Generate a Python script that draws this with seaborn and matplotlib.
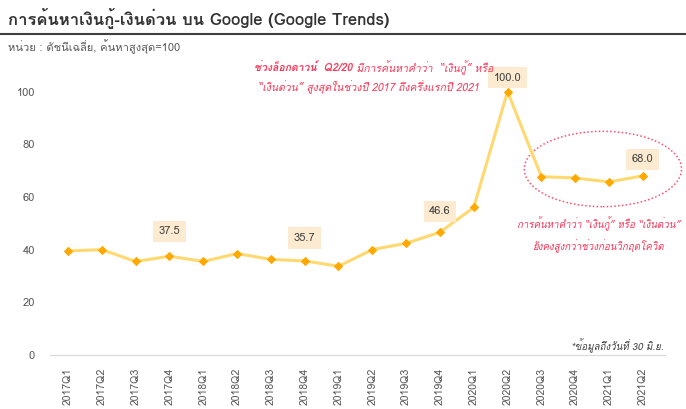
import matplotlib
matplotlib.use("Agg")
import matplotlib.pyplot as plt
from matplotlib import font_manager
from matplotlib.patches import Ellipse
import numpy as np
import pandas as pd
import seaborn as sns
from fontTools.ttLib import TTFont

quarters = [
    "2017Q1", "2017Q2", "2017Q3", "2017Q4",
    "2018Q1", "2018Q2", "2018Q3", "2018Q4",
    "2019Q1", "2019Q2", "2019Q3", "2019Q4",
    "2020Q1", "2020Q2", "2020Q3", "2020Q4",
    "2021Q1", "2021Q2",
]
index_values = [
    39.5, 40.0, 35.5, 37.5,
    35.5, 38.5, 36.3, 35.7,
    33.7, 40.0, 42.4, 46.6,
    56.0, 100.0, 67.7, 67.2,
    65.7, 68.0,
]
labelled = ["2017Q4", "2018Q4", "2019Q4", "2020Q2", "2021Q2"]
label_offsets = [18, 16.5, 15, 10, 12]

title = "การค้นหาเงินกู้-เงินด่วน บน Google (Google Trends)"
subtitle = "หน่วย : ดัชนีเฉลี่ย, ค้นหาสูงสุด=100"
note_bold = "ช่วงล็อกดาวน์  Q2/20"
note_rest = " มีการค้นหาคำว่า  “เงินกู้” หรือ"
note_line2 = "“เงินด่วน” สูงสุดในช่วงปี 2017 ถึงครึ่งแรกปี 2021"
note2 = "การค้นหาคำว่า “เงินกู้” หรือ “เงินด่วน”\nยังคงสูงกว่าช่วงก่อนวิกฤตโควิด"
footnote = "*ข้อมูลถึงวันที่ 30 มิ.ย."


def find_thai_fonts():
    names = []
    for f in font_manager.fontManager.ttflist:
        try:
            cmap = TTFont(f.fname, fontNumber=0, lazy=True).getBestCmap()
        except Exception:
            continue
        if cmap and 0x0E01 in cmap and f.name not in names:
            names.append(f.name)
    return names


sns.set_style("white")
thai = find_thai_fonts()
plt.rcParams["font.family"] = thai + ["DejaVu Sans"]

df = pd.DataFrame({"quarter": quarters, "value": index_values})
df["pos"] = np.arange(len(df))

fig = plt.figure(figsize=(6.86, 4.09), dpi=100)
ax = fig.add_axes([0.073, 0.132, 0.896, 0.773])

sns.lineplot(data=df, x="pos", y="value", ax=ax, color="#FFD970", linewidth=2.2,
             marker="D", markersize=4.5, markerfacecolor="#FFA800",
             markeredgecolor="#FFA800")

for q, off in zip(labelled, label_offsets):
    row = df[df["quarter"] == q].iloc[0]
    ax.annotate(f"{row['value']:.1f}", (row["pos"], row["value"]),
                xytext=(0, off), textcoords="offset points", ha="center",
                va="center", fontsize=8, color="#404040",
                bbox=dict(boxstyle="square,pad=0.5", facecolor="#FCEBD0",
                          edgecolor="none"))

ax.set_xlim(-0.53, len(df) - 0.35)
ax.set_ylim(0, 120)
ax.set_yticks([0, 20, 40, 60, 80, 100])
ax.set_xticks(df["pos"])
ax.set_xticklabels(quarters, rotation=90, fontsize=7.5, color="#595959")
ax.tick_params(axis="y", labelsize=8, labelcolor="#595959", length=0, pad=11)
ax.tick_params(axis="x", length=0, pad=9)
ax.set_xlabel("")
ax.set_ylabel("")
for side in ["left", "right", "top"]:
    ax.spines[side].set_visible(False)
ax.spines["bottom"].set_color("#D9D9D9")

ax.add_patch(Ellipse((15.82, 70.6), 4.65, 28.6, fill=False, edgecolor="#FF4D6A",
                     linestyle=(0, (1, 1.5)), linewidth=1.1, clip_on=False))

red = "#FF3355"
fig.text(0.37, 0.835, note_bold, ha="left", va="center", fontsize=7.5,
         color=red, style="italic", weight="bold")
fig.text(0.37 + 0.145, 0.835, note_rest, ha="left", va="center", fontsize=7.5,
         color=red, style="italic")
fig.text(0.537, 0.787, note_line2, ha="center", va="center", fontsize=7.5,
         color=red, style="italic")
fig.text(0.872, 0.426, note2, ha="center", va="center", fontsize=7,
         color=red, style="italic", linespacing=1.7)
fig.text(0.967, 0.155, footnote, ha="right", va="center", fontsize=7,
         color="#404040", style="italic")

fig.text(0.012, 0.955, title, ha="left", va="center", fontsize=12,
         weight="bold", color="#333333")
fig.add_artist(plt.Line2D([0, 1], [0.918, 0.918], color="#404040", linewidth=1.5))
fig.text(0.012, 0.885, subtitle, ha="left", va="center", fontsize=8,
         color="#595959")

fig.savefig("out.png", dpi=100)
plt.close(fig)
